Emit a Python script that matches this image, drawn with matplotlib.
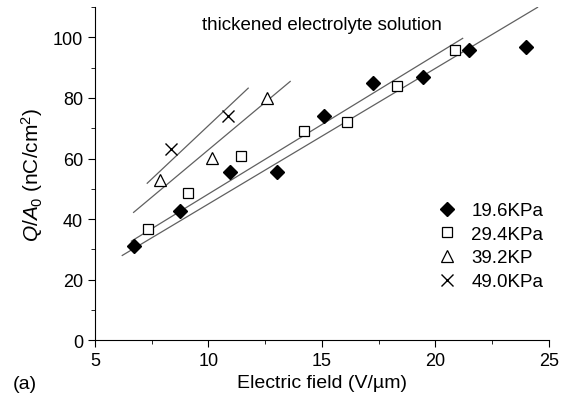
import numpy as np
import matplotlib.pyplot as plt

plt.rcParams['font.family'] = ['Liberation Sans', 'DejaVu Sans']
plt.rcParams['mathtext.fontset'] = 'custom'
plt.rcParams['mathtext.rm'] = 'Liberation Sans'
plt.rcParams['mathtext.it'] = 'Liberation Sans:italic'

# 数据
x_196 = [6.7, 8.75, 10.95, 13.0, 15.1, 17.25, 19.45, 21.5, 24.0]
y_196 = [31, 42.5, 55.4, 55.4, 74, 85, 86.8, 96, 97]
x_294 = [7.35, 9.1, 11.45, 14.2, 16.1, 18.3, 20.85]
y_294 = [36.6, 48.5, 61, 69, 72, 84, 96]
x_392 = [7.86, 10.15, 12.6]
y_392 = [53, 60.3, 80]
x_490 = [8.35, 10.85]
y_490 = [63, 74]

# 拟合直线: 斜率, 截距, x 范围
fit_slope = [4.48, 4.59, 6.27, 7.06]
fit_icept = [0.2, 2.4, 0.2, 0.3]
fit_xmin = [6.2, 6.6, 6.7, 7.3]
fit_xmax = [24.5, 21.2, 13.6, 11.75]

labels = ['19.6KPa', '29.4KPa', '39.2KP', '49.0KPa']

fig = plt.figure(figsize=(5.7, 4.1), dpi=100)
ax = fig.add_axes([0.1667, 0.168, 0.7963, 0.812])

# 拟合线
for k, b, x0, x1 in zip(fit_slope, fit_icept, fit_xmin, fit_xmax):
    xs = np.array([x0, x1])
    ax.plot(xs, k * xs + b, color='#606060', lw=0.9)

# 数据点
ax.plot(x_196, y_196, 'D', ms=7, color='black', label=labels[0])
ax.plot(x_294, y_294, 's', ms=7.5, mfc='white', mec='black', mew=0.9, label=labels[1])
ax.plot(x_392, y_392, '^', ms=9, mfc='white', mec='black', mew=0.9, label=labels[2])
ax.plot(x_490, y_490, 'x', ms=9, color='black', mew=1.0, label=labels[3])

ax.set_xlim(5, 25)
ax.set_ylim(0, 110)
ax.set_xticks([5, 10, 15, 20, 25])
ax.set_xticks([7.5, 12.5, 17.5, 22.5], minor=True)
ax.set_yticks([0, 20, 40, 60, 80, 100])
ax.set_yticks([10, 30, 50, 70, 90, 110], minor=True)
ax.tick_params(which='both', direction='out', labelsize=13)
ax.tick_params(which='major', length=5)
ax.tick_params(which='minor', length=3)

ax.spines['top'].set_visible(False)
ax.spines['right'].set_visible(False)

ax.set_xlabel('Electric field (V/µm)', fontsize=14, labelpad=4)
ax.set_ylabel(r'$Q/A_0$ (nC/cm$^2$)', fontsize=15, labelpad=6)

ax.text(0.5, 0.975, 'thickened electrolyte solution', transform=ax.transAxes,
        ha='center', va='top', fontsize=13.5)
fig.text(0.022, 0.062, '(a)', fontsize=14, ha='left', va='center')

ax.legend(loc='upper left', bbox_to_anchor=(0.7675, 0.505),
          bbox_transform=fig.transFigure, frameon=False, borderpad=0,
          borderaxespad=0, fontsize=13.5, handletextpad=0.8,
          labelspacing=0.35, handlelength=1.0)

plt.savefig('out.png', dpi=100)
